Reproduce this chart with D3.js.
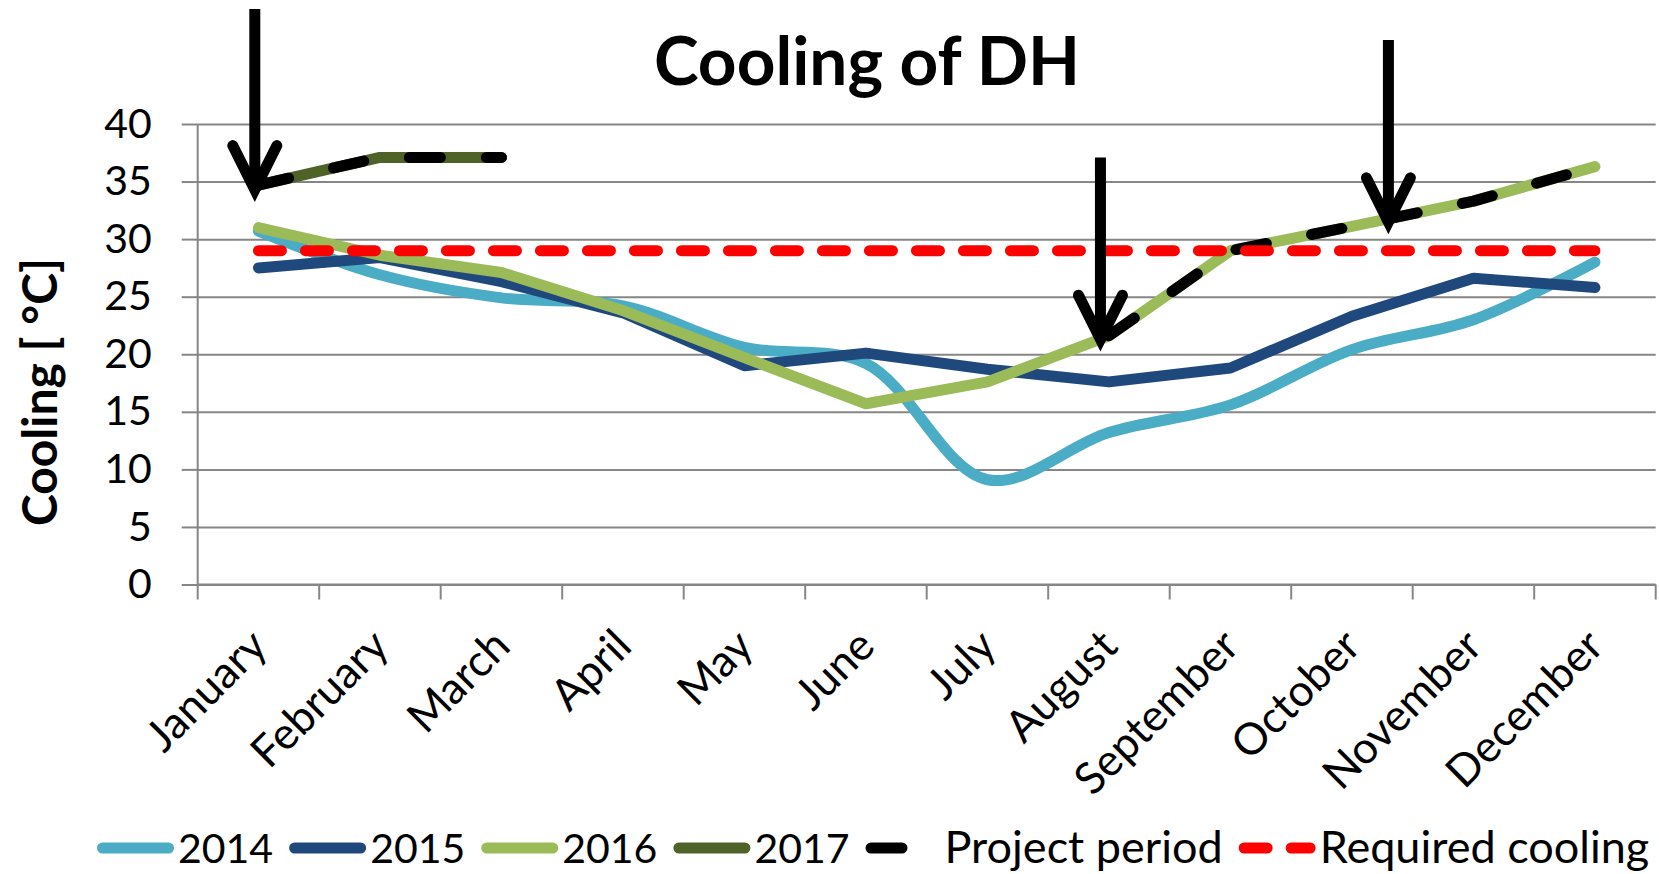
<!DOCTYPE html>
<html>
<head>
<meta charset="utf-8">
<script src="https://cdn.jsdelivr.net/npm/d3@7"></script>
<style>
  body { margin: 0; background: #fff; }
  svg { display: block; font-family: Lato, "Open Sans", sans-serif; }
</style>
</head>
<body>
<div id="chart"></div>
<script>
const months = ["January", "February", "March", "April", "May", "June",
  "July", "August", "September", "October", "November", "December"];
const yTicks = [0, 5, 10, 15, 20, 25, 30, 35, 40];

const v2014 = [30.7, 26.9, 24.9, 24.2, 20.6, 19.2, 9.1, 13.2, 15.6, 20.4, 23.0, 28.0];
const v2015 = [27.5, 28.4, 26.3, 23.6, 19.0, 20.1, 18.7, 17.6, 18.8, 23.3, 26.6, 25.8];
const v2016 = [31.0, 28.6, 27.1, 23.8, 19.7, 15.7, 17.6, 21.6, 29.0, 31.1, 33.3, 36.3];
const v2017 = [34.7, 37.1, 37.1, null, null, null, null, null, null, null, null, null];
const vProject = [34.7, 37.1, 37.1, null, null, null, null, 21.6, 29.0, 31.1, 33.3, 36.3];
const vRequired = [29, 29, 29, 29, 29, 29, 29, 29, 29, 29, 29, 29];

// annotation arrows: month position (index), tip value, tail value
const arrowPos = [-0.03, 6.93, 9.3];
const arrowTip = [34.3, 21.3, 31.5];
const arrowTail = [50.0, 37.1, 47.3];

const series = [
  { name: "2014", values: v2014, color: "#4BACC6", smooth: true },
  { name: "2015", values: v2015, color: "#1F497D" },
  { name: "2016", values: v2016, color: "#9BBB59" },
  { name: "2017", values: v2017, color: "#4F6228" },
  { name: "Project period", values: vProject, color: "#000000", dash: "31,46" },
  { name: "Required cooling", values: vRequired, color: "#FF0000", dash: "23,24" }
];

const W = 1659, H = 874;
const pLeft = 197.7, pRight = 1655.7, pTop = 124, pBottom = 584.5;
const gridColor = "#868686";

const svg = d3.select("#chart").append("svg")
  .attr("width", W).attr("height", H);

const x = d3.scaleBand().domain(months).range([pLeft, pRight]);
const bw = x.bandwidth();
const xi = d3.scaleLinear().domain([0, 11])
  .range([x(months[0]) + bw / 2, x(months[11]) + bw / 2]);
const y = d3.scaleLinear().domain([0, 40]).range([pBottom, pTop]);

// gridlines
svg.append("g")
  .attr("transform", "translate(" + pLeft + ",0)")
  .call(d3.axisLeft(y).tickValues(yTicks).tickSize(-(pRight - pLeft)).tickFormat(""))
  .call(g => g.select(".domain").remove())
  .call(g => g.selectAll("line").attr("stroke", gridColor).attr("stroke-width", 2));

// y axis with labels
svg.append("g")
  .attr("transform", "translate(" + pLeft + ",0)")
  .call(d3.axisLeft(y).tickValues(yTicks).tickSize(16).tickPadding(30))
  .call(g => g.select(".domain").attr("stroke", gridColor).attr("stroke-width", 2)
    .attr("d", "M0," + pTop + "V" + pBottom))
  .call(g => g.selectAll("line").attr("stroke", gridColor).attr("stroke-width", 2))
  .call(g => g.selectAll("text").attr("font-size", 41).attr("font-family", "Lato").attr("fill", "#000"));

// x axis
const xa = svg.append("g");
xa.append("line")
  .attr("x1", pLeft).attr("x2", pRight).attr("y1", pBottom).attr("y2", pBottom)
  .attr("stroke", gridColor).attr("stroke-width", 2);
xa.selectAll("line.tick")
  .data(months.concat(["end"]))
  .join("line")
  .attr("class", "tick")
  .attr("x1", (d, i) => i < 12 ? x(d) : x(months[11]) + bw)
  .attr("x2", (d, i) => i < 12 ? x(d) : x(months[11]) + bw)
  .attr("y1", pBottom).attr("y2", pBottom + 15)
  .attr("stroke", gridColor).attr("stroke-width", 2);
xa.selectAll("text")
  .data(months)
  .join("text")
  .attr("transform", d => "translate(" + (x(d) + bw / 2 + 11) + "," + (pBottom + 64) + ") rotate(-45)")
  .attr("text-anchor", "end")
  .attr("font-size", 44)
  .text(d => d);

// lines
const line = d3.line()
  .defined(d => d != null)
  .x((d, i) => xi(i))
  .y(d => y(d));

series.forEach(s => {
  svg.append("path")
    .datum(s.values)
    .attr("d", line.curve(s.smooth ? d3.curveCatmullRom.alpha(0.5) : d3.curveLinear))
    .attr("fill", "none")
    .attr("stroke", s.color)
    .attr("stroke-width", 11)
    .attr("stroke-linecap", "round")
    .attr("stroke-linejoin", "round")
    .attr("stroke-dasharray", s.dash || null);
});

// arrows
const arrows = svg.append("g").attr("stroke", "#000").attr("fill", "none")
  .attr("stroke-width", 11).attr("stroke-linejoin", "miter");
arrowPos.forEach((p, i) => {
  const ax = xi(p), ty = y(arrowTip[i]), ly = y(arrowTail[i]);
  arrows.append("line")
    .attr("x1", ax).attr("x2", ax).attr("y1", ly).attr("y2", ty - 6);
  arrows.append("path")
    .attr("stroke-linecap", "round")
    .attr("d", "M" + (ax - 22) + "," + (ty - 44) + "L" + ax + "," + ty + "L" + (ax + 22) + "," + (ty - 44));
});

// title
svg.append("text")
  .attr("x", 867).attr("y", 85)
  .attr("text-anchor", "middle")
  .attr("font-size", 67.5).attr("font-weight", "bold")
  .text("Cooling of DH");

// y title
svg.append("text")
  .attr("transform", "translate(57,392) rotate(-90)")
  .attr("text-anchor", "middle")
  .attr("font-size", 48).attr("font-weight", "bold")
  .text("Cooling [ °C]");

// legend (digits in Lato run wider than the words, so years get a smaller size)
const legend = svg.append("g");
let lx = 97;
const ly = 848;
series.forEach(s => {
  legend.append("line")
    .attr("x1", lx + 5.5).attr("x2", lx + 77 - 5.5)
    .attr("y1", ly).attr("y2", ly)
    .attr("stroke", s.color).attr("stroke-width", 11)
    .attr("stroke-linecap", "round")
    .attr("stroke-dasharray", s.dash || null);
  const isYear = /^\d+$/.test(s.name);
  const gap = s.name === "Project period" ? 2 : 4;
  const t = legend.append("text")
    .attr("x", lx + 77 + gap).attr("y", ly + 15)
    .attr("font-size", isYear ? 41 : 45)
    .text(s.name);
  lx += 77 + gap + t.node().getComputedTextLength() + 16;
});
</script>
</body>
</html>
